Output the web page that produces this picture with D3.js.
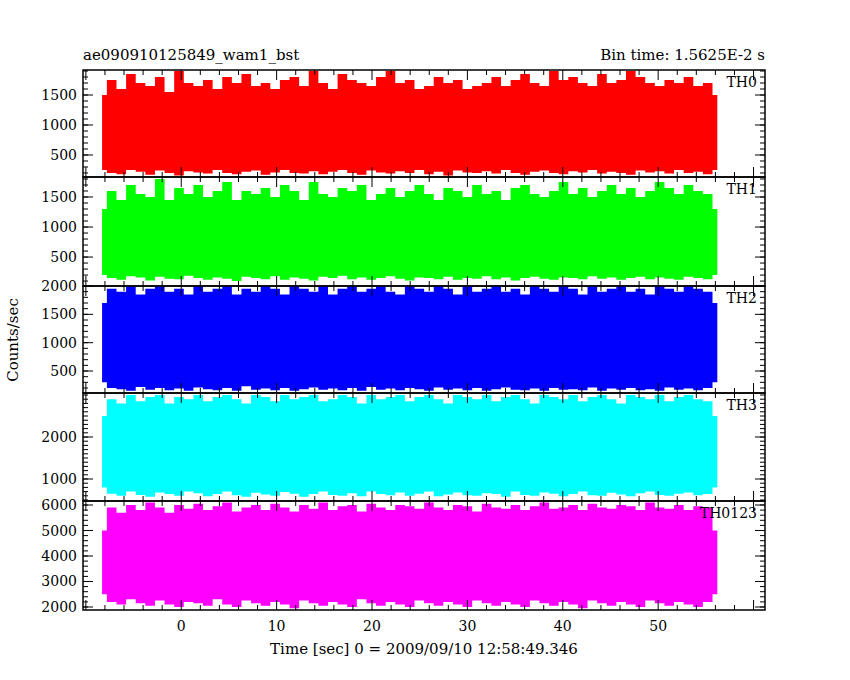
<!DOCTYPE html>
<html><head><meta charset="utf-8">
<script src="https://cdn.jsdelivr.net/npm/d3@7"></script>
<style>body{margin:0;background:#fff}text{font-family:"DejaVu Serif",serif;font-weight:normal}</style>
</head><body><svg id="c" width="850" height="680"></svg>
<script>
const titleLeft = "ae090910125849_wam1_bst";
const titleRight = "Bin time: 1.5625E-2 s";
const xLabel = "Time [sec] 0 = 2009/09/10 12:58:49.346";
const yLabel = "Counts/sec";
const panelNames = ["TH0","TH1","TH2","TH3","TH0123"];
const panelColors = ["#ff0000","#00ff00","#0000ff","#00ffff","#ff00ff"];
const panelDomains = [[133,1917],[18,1833],[112,2000],[476,3048],[1882,6157]];
const panelTicks = [[500,1000,1500],[500,1000,1500],[500,1000,1500,2000],[1000,2000],[2000,3000,4000,5000,6000]];
const xTicks = [0,10,20,30,40,50];
const tStart = -8.3, tEnd = 56.2;
const th0High = [1500,1750,1600,1850,1700,1650,1800,1550,1900,1700,1650,1750,1600,1800,1700,1850,1650,1700,1600,1750,1800,1650,1900,1700,1600,1850,1750,1700,1650,1800,1900,1700,1750,1600,1650,1800,1700,1750,1600,1650,1700,1800,1650,1750,1850,1700,1650,1900,1750,1800,1700,1650,1850,1700,1750,1900,1800,1700,1650,1750,1700,1800,1650,1700,1500];
const th0Low  = [250,200,180,250,220,170,240,200,160,230,210,190,250,200,180,220,240,170,210,250,200,190,230,180,220,250,200,170,240,210,190,230,200,250,180,220,160,240,210,200,230,190,250,200,170,220,240,200,180,230,210,250,190,220,200,170,240,210,230,190,250,200,220,180,250];
const th1High = [1300,1600,1450,1700,1550,1500,1800,1450,1650,1550,1700,1500,1600,1750,1450,1600,1550,1650,1500,1700,1600,1450,1750,1550,1500,1650,1600,1700,1450,1550,1650,1500,1600,1700,1550,1450,1650,1600,1500,1700,1550,1600,1450,1650,1700,1550,1500,1600,1750,1550,1650,1500,1600,1700,1550,1650,1500,1600,1750,1650,1550,1700,1600,1550,1300];
const th1Low  = [200,150,120,180,160,110,170,140,130,190,150,120,160,140,100,170,150,130,180,120,160,140,110,170,150,190,130,160,120,150,180,140,110,160,150,130,170,120,150,140,180,130,160,110,150,170,140,120,160,150,130,180,140,160,120,150,170,130,160,140,120,170,150,130,200];
const th2High = [1700,1950,1900,2000,1850,1950,2000,1900,1950,1850,2000,1900,1950,2000,1850,1950,1900,2000,1950,1850,2000,1950,1900,2000,1850,1950,2000,1900,1950,2000,1900,1850,2000,1950,1900,2000,1950,1850,2000,1900,1950,2000,1900,1950,1850,2000,1950,1900,2000,1950,1850,2000,1900,1950,2000,1900,1950,1850,2000,1950,1900,2000,1950,1900,1700];
const th2Low  = [300,200,180,150,220,170,200,160,190,150,210,180,160,200,150,230,170,190,160,200,150,180,210,170,190,160,200,150,220,170,190,160,200,180,150,210,170,190,160,200,150,180,210,170,160,190,150,200,170,180,160,210,150,190,170,200,160,180,150,210,170,190,160,200,300];
const th3High = [2500,2900,2800,3000,2850,2950,3000,2800,2950,2900,3000,2850,2950,3000,2900,2800,3000,2950,2850,3000,2900,2950,3000,2850,2900,3000,2950,2800,3000,2900,2950,3000,2850,2950,3000,2900,2800,3000,2950,2900,3000,2850,2950,3000,2900,2800,3000,2950,2900,3000,2850,2950,3000,2900,2800,3000,2950,2900,3000,2850,2950,3000,2900,2850,2500];
const th3Low  = [800,650,600,700,620,580,680,640,600,700,660,590,640,700,610,580,670,630,600,690,650,580,640,700,620,600,660,590,700,640,610,680,600,650,700,590,630,680,610,600,660,640,580,700,620,600,680,650,590,640,700,610,600,670,630,590,660,700,620,600,650,680,610,640,800];
const thAllHigh = [5000,5900,5700,6000,5800,6100,5900,5700,6000,5850,6050,5800,5950,6100,5750,5900,6000,5800,6050,5900,5750,6000,5850,6100,5800,5950,6000,5750,6050,5900,5800,6000,5950,5850,6100,5900,5800,6000,5950,5750,6050,5900,5850,6000,5800,5950,6100,5850,5900,6000,5800,6050,5900,5850,6000,5950,5800,6100,5900,5850,6000,5800,5950,5900,5000];
const thAllLow  = [2500,2200,2100,2300,2150,2050,2250,2100,2000,2200,2150,2050,2300,2100,2000,2250,2150,2050,2200,2100,1950,2250,2150,2050,2200,2100,2000,2300,2150,2050,2200,2100,2000,2250,2150,2050,2200,2100,2000,2250,2150,2050,2200,2100,2000,2250,2150,2050,2200,2100,1950,2250,2150,2050,2200,2100,2000,2250,2150,2050,2200,2100,2000,2200,2500];
const highs = [th0High,th1High,th2High,th3High,thAllHigh];
const lows = [th0Low,th1Low,th2Low,th3Low,thAllLow];

const svg = d3.select("#c");
const L=83,R=765, tops=[70,177,286,393,501,610];
const x = d3.scaleLinear().domain([-10.3,61.2]).range([L,R]);

panelNames.forEach((name,p)=>{
  const y0=tops[p], y1=tops[p+1];
  const y = d3.scaleLinear().domain(panelDomains[p]).range([y1,y0]);
  const hi=highs[p], lo=lows[p], n=hi.length;
  const pts = d3.range(n).map(i=>({t:tStart+(tEnd-tStart)*i/(n-1),h:hi[i],l:lo[i]}));
  svg.append("clipPath").attr("id","cp"+p).append("rect").attr("x",L).attr("y",y0).attr("width",R-L).attr("height",y1-y0);
  const g=svg.append("g").attr("clip-path","url(#cp"+p+")");
  g.append("path").datum(pts).attr("fill",panelColors[p])
   .attr("d",d3.area().curve(d3.curveStep).x(d=>x(d.t)).y0(d=>y(d.l)).y1(d=>y(d.h)));
  svg.append("rect").attr("x",L).attr("y",y0).attr("width",R-L).attr("height",y1-y0)
   .attr("fill","none").attr("stroke","#000").attr("stroke-width",1.5);
  panelTicks[p].forEach(v=>{
    const yy=y(v);
    svg.append("line").attr("x1",L).attr("x2",L+10).attr("y1",yy).attr("y2",yy).attr("stroke","#000");
    svg.append("line").attr("x1",R-10).attr("x2",R).attr("y1",yy).attr("y2",yy).attr("stroke","#000");
    svg.append("text").attr("x",L-6).attr("y",yy+5).attr("text-anchor","end").attr("font-size",14).text(v);
  });
  y.ticks(20).forEach(v=>{
    if(v<=panelDomains[p][0]||v>=panelDomains[p][1])return;
    const yy=y(v);
    svg.append("line").attr("x1",L).attr("x2",L+5).attr("y1",yy).attr("y2",yy).attr("stroke","#000");
    svg.append("line").attr("x1",R-5).attr("x2",R).attr("y1",yy).attr("y2",yy).attr("stroke","#000");
  });
  [y0,y1].forEach((yb,k)=>{
    d3.range(-10,62,2).forEach(v=>{
      const len = v%10===0?10:5, xx=x(v);
      svg.append("line").attr("x1",xx).attr("x2",xx).attr("y1",yb).attr("y2",k?yb-len:yb+len).attr("stroke","#000");
    });
  });
  svg.append("text").attr("x",R-8).attr("y",y0+17).attr("text-anchor","end").attr("font-size",14).attr("font-weight","bold").text(name);
});
xTicks.forEach(v=>svg.append("text").attr("x",x(v)).attr("y",631).attr("text-anchor","middle").attr("font-size",14).text(v));
svg.append("text").attr("x",(L+R)/2).attr("y",654).attr("text-anchor","middle").attr("font-size",15).text(xLabel);
svg.append("text").attr("transform","translate(18,340) rotate(-90)").attr("text-anchor","middle").attr("font-size",15).text(yLabel);
svg.append("text").attr("x",L).attr("y",60).attr("font-size",15).text(titleLeft);
svg.append("text").attr("x",R).attr("y",60).attr("text-anchor","end").attr("font-size",15).text(titleRight);
</script></body></html>
